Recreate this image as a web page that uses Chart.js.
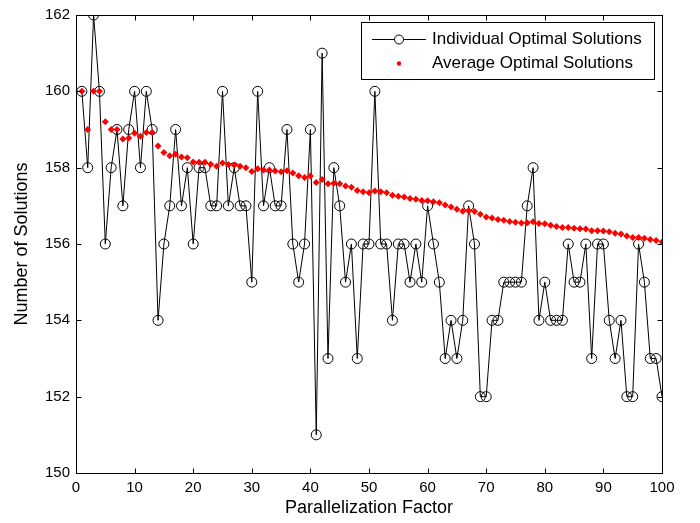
<!DOCTYPE html>
<html>
<head>
<meta charset="utf-8">
<script src="https://cdn.jsdelivr.net/npm/chart.js@4/dist/chart.umd.min.js"></script>
<style>
  html, body { margin: 0; padding: 0; background: #fff; }
  canvas { display: block; }
</style>
</head>
<body>
<canvas id="chart" width="700" height="523"></canvas>
<script>
// Data
const factors = [
  1, 2, 3, 4, 5, 6, 7, 8, 9, 10, 11, 12, 13, 14, 15, 16, 17, 18, 19, 20,
  21, 22, 23, 24, 25, 26, 27, 28, 29, 30, 31, 32, 33, 34, 35, 36, 37, 38, 39, 40,
  41, 42, 43, 44, 45, 46, 47, 48, 49, 50, 51, 52, 53, 54, 55, 56, 57, 58, 59, 60,
  61, 62, 63, 64, 65, 66, 67, 68, 69, 70, 71, 72, 73, 74, 75, 76, 77, 78, 79, 80,
  81, 82, 83, 84, 85, 86, 87, 88, 89, 90, 91, 92, 93, 94, 95, 96, 97, 98, 99, 100,
];

const individualSolutions = [
  160, 158, 162, 160, 156, 158, 159, 157, 159, 160,
  158, 160, 159, 154, 156, 157, 159, 157, 158, 156,
  158, 158, 157, 157, 160, 157, 158, 157, 157, 155,
  160, 157, 158, 157, 157, 159, 156, 155, 156, 159,
  151, 161, 153, 158, 157, 155, 156, 153, 156, 156,
  160, 156, 156, 154, 156, 156, 155, 156, 155, 157,
  156, 155, 153, 154, 153, 154, 157, 156, 152, 152,
  154, 154, 155, 155, 155, 155, 157, 158, 154, 155,
  154, 154, 154, 156, 155, 155, 156, 153, 156, 156,
  154, 153, 154, 152, 152, 156, 155, 153, 153, 152,
];

const averageSolutions = [
  160, 159, 160, 160, 159.2, 159, 159, 158.75, 158.78, 158.9,
  158.82, 158.92, 158.92, 158.57, 158.4, 158.31, 158.35, 158.28, 158.26, 158.15,
  158.14, 158.14, 158.09, 158.04, 158.12, 158.08, 158.07, 158.04, 158, 157.9,
  157.97, 157.94, 157.94, 157.91, 157.89, 157.92, 157.86, 157.79, 157.74, 157.78,
  157.61, 157.69, 157.58, 157.59, 157.58, 157.52, 157.49, 157.4, 157.37, 157.34,
  157.39, 157.37, 157.34, 157.28, 157.25, 157.23, 157.19, 157.17, 157.14, 157.13,
  157.11, 157.08, 157.02, 156.97, 156.91, 156.86, 156.87, 156.85, 156.78, 156.71,
  156.68, 156.64, 156.62, 156.59, 156.57, 156.55, 156.56, 156.58, 156.54, 156.53,
  156.49, 156.46, 156.43, 156.43, 156.41, 156.4, 156.39, 156.35, 156.35, 156.34,
  156.32, 156.28, 156.26, 156.21, 156.17, 156.17, 156.15, 156.12, 156.09, 156.05,
];

const seriesNames = ['Individual Optimal Solutions', 'Average Optimal Solutions'];
const xTitle = 'Parallelization Factor';
const yTitle = 'Number of Solutions';

const FONT = '"Liberation Sans", Arial, sans-serif';

// MATLAB style box, inward ticks and boxed legend
const matlabFrame = {
  id: 'matlabFrame',
  afterDraw(chart) {
    const { ctx, chartArea: a, scales } = chart;
    const tickLen = 5;
    ctx.save();
    ctx.strokeStyle = '#000';
    ctx.lineWidth = 1;

    // box
    const L = Math.round(a.left) + 0.5;
    const R = Math.round(a.right) + 0.5;
    const T = Math.round(a.top) + 0.5;
    const B = Math.round(a.bottom) + 0.5;
    ctx.strokeRect(L, T, R - L, B - T);

    // inward ticks
    ctx.beginPath();
    scales.x.ticks.forEach((t) => {
      const px = Math.round(scales.x.getPixelForValue(t.value)) + 0.5;
      ctx.moveTo(px, B); ctx.lineTo(px, B - tickLen);
      ctx.moveTo(px, T); ctx.lineTo(px, T + tickLen);
    });
    scales.y.ticks.forEach((t) => {
      const py = Math.round(scales.y.getPixelForValue(t.value)) + 0.5;
      ctx.moveTo(L, py); ctx.lineTo(L + tickLen, py);
      ctx.moveTo(R, py); ctx.lineTo(R - tickLen, py);
    });
    ctx.stroke();

    // legend box
    const lx = 361.5, ly = 22.5, lw = 293, lh = 57;
    ctx.fillStyle = '#fff';
    ctx.fillRect(lx, ly, lw, lh);
    ctx.strokeRect(lx, ly, lw, lh);

    // entry 1: line with open circle
    const row1 = 39.5, row2 = 63.5;
    ctx.beginPath();
    ctx.moveTo(372, row1); ctx.lineTo(426, row1);
    ctx.stroke();
    ctx.beginPath();
    ctx.arc(399, row1, 4.5, 0, Math.PI * 2);
    ctx.fillStyle = '#fff';
    ctx.fill();
    ctx.stroke();

    // entry 2: red dot
    ctx.beginPath();
    ctx.arc(399, row2, 2.2, 0, Math.PI * 2);
    ctx.fillStyle = '#ff0000';
    ctx.fill();

    ctx.fillStyle = '#000';
    ctx.font = '17px ' + FONT;
    ctx.textBaseline = 'middle';
    ctx.textAlign = 'left';
    ctx.fillText(seriesNames[0], 432, row1);
    ctx.fillText(seriesNames[1], 432, row2);
    ctx.restore();
  },
};

new Chart(document.getElementById('chart'), {
  type: 'line',
  data: {
    datasets: [
      {
        label: seriesNames[0],
        data: factors.map((f, i) => ({ x: f, y: individualSolutions[i] })),
        borderColor: '#000',
        borderWidth: 1,
        pointStyle: 'circle',
        pointRadius: 5,
        pointBorderWidth: 1,
        pointBorderColor: '#000',
        pointBackgroundColor: 'rgba(0,0,0,0)',
        tension: 0,
        order: 1,
      },
      {
        label: seriesNames[1],
        data: factors.map((f, i) => ({ x: f, y: averageSolutions[i] })),
        showLine: false,
        pointStyle: 'rectRot',
        pointRadius: 3.5,
        pointBorderWidth: 0,
        pointBackgroundColor: '#ff0000',
        pointBorderColor: '#ff0000',
        order: 0,
      },
    ],
  },
  options: {
    responsive: false,
    animation: false,
    layout: { padding: { left: 0, right: 38, top: 13, bottom: 0 } },
    plugins: {
      legend: { display: false },
      tooltip: { enabled: false },
    },
    scales: {
      x: {
        type: 'linear',
        min: 0,
        max: 100,
        ticks: {
          stepSize: 10,
          color: '#000',
          padding: 6,
          maxRotation: 0,
          font: { family: FONT, size: 15 },
        },
        grid: { display: false, drawTicks: false },
        border: { display: false },
        title: {
          display: true,
          text: xTitle,
          color: '#000',
          padding: { top: 0, bottom: 4 },
          font: { family: FONT, size: 18 },
        },
        afterFit(scale) { scale.height = 50; },
      },
      y: {
        min: 150,
        max: 162,
        ticks: {
          stepSize: 2,
          color: '#000',
          padding: 6,
          font: { family: FONT, size: 15 },
        },
        grid: { display: false, drawTicks: false },
        border: { display: false },
        title: {
          display: true,
          text: yTitle,
          color: '#000',
          padding: { top: 11, bottom: 0 },
          font: { family: FONT, size: 18 },
        },
        afterFit(scale) { scale.width = 76; },
      },
    },
  },
  plugins: [matlabFrame],
});
</script>
</body>
</html>
